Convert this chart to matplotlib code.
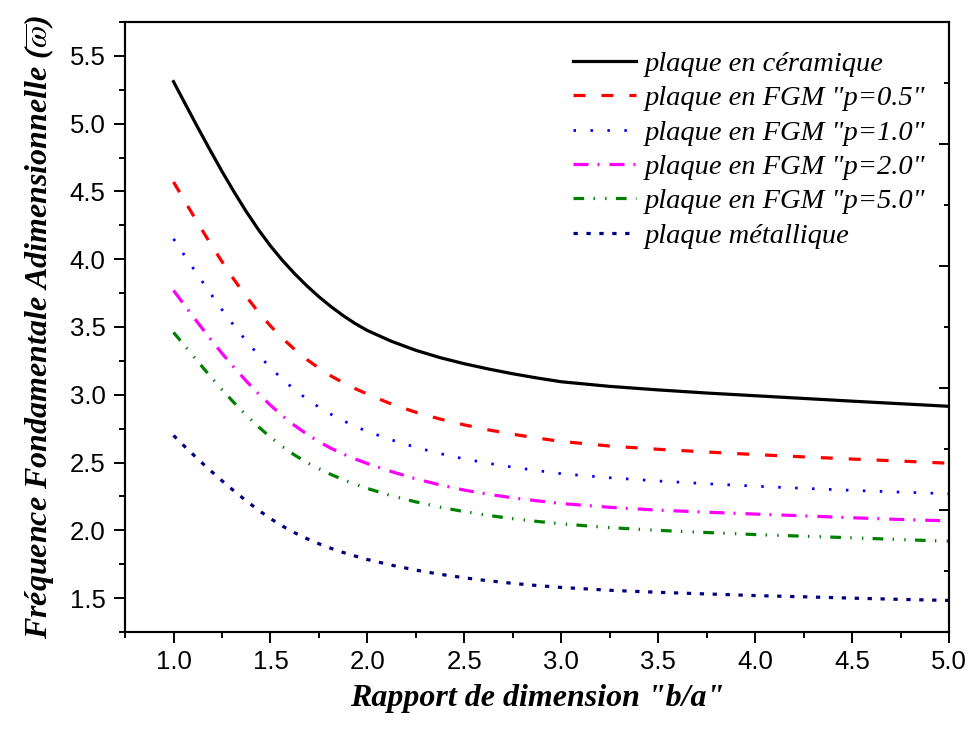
import matplotlib
matplotlib.use("Agg")
import matplotlib.pyplot as plt
from matplotlib.ticker import MultipleLocator, FormatStrFormatter

# rapport b/a
ratio = [1.0, 1.0625, 1.125, 1.1875, 1.25, 1.3125, 1.375, 1.4375, 1.5, 1.5625, 1.625,
         1.6875, 1.75, 1.8125, 1.875, 1.9375, 2.0, 2.125, 2.25, 2.375, 2.5, 2.625,
         2.75, 2.875, 3.0, 3.25, 3.5, 3.75, 4.0, 4.25, 4.5, 4.75, 5.0]

ceramique = [5.310, 5.140, 4.972, 4.808, 4.648, 4.496, 4.352, 4.219, 4.098, 3.990, 3.893,
             3.804, 3.723, 3.650, 3.584, 3.525, 3.474, 3.394, 3.328, 3.274, 3.229, 3.190,
             3.155, 3.124, 3.096, 3.062, 3.036, 3.013, 2.993, 2.973, 2.953, 2.934, 2.915]
fgm_05 = [4.570, 4.418, 4.268, 4.122, 3.982, 3.849, 3.725, 3.611, 3.508, 3.416, 3.334,
          3.261, 3.196, 3.139, 3.089, 3.045, 3.005, 2.931, 2.871, 2.821, 2.778, 2.741,
          2.709, 2.681, 2.656, 2.622, 2.598, 2.578, 2.559, 2.542, 2.526, 2.511, 2.495]
fgm_10 = [4.150, 4.016, 3.884, 3.754, 3.628, 3.509, 3.398, 3.295, 3.200, 3.114, 3.037,
          2.969, 2.909, 2.856, 2.809, 2.767, 2.729, 2.667, 2.612, 2.566, 2.527, 2.494,
          2.466, 2.441, 2.418, 2.388, 2.364, 2.344, 2.326, 2.310, 2.295, 2.282, 2.270]
fgm_20 = [3.770, 3.650, 3.532, 3.417, 3.306, 3.201, 3.102, 3.009, 2.923, 2.844, 2.773,
          2.710, 2.654, 2.605, 2.563, 2.526, 2.493, 2.433, 2.380, 2.335, 2.297, 2.266,
          2.240, 2.218, 2.198, 2.170, 2.149, 2.134, 2.120, 2.107, 2.093, 2.080, 2.070]
fgm_50 = [3.460, 3.354, 3.246, 3.140, 3.038, 2.941, 2.850, 2.765, 2.687, 2.617, 2.555,
          2.501, 2.454, 2.412, 2.374, 2.340, 2.309, 2.255, 2.210, 2.171, 2.138, 2.110,
          2.086, 2.066, 2.048, 2.020, 2.000, 1.984, 1.969, 1.957, 1.945, 1.932, 1.920]
metallique = [2.700, 2.612, 2.527, 2.445, 2.366, 2.290, 2.218, 2.150, 2.087, 2.031, 1.982,
              1.939, 1.901, 1.867, 1.837, 1.810, 1.785, 1.743, 1.707, 1.676, 1.650, 1.628,
              1.609, 1.593, 1.579, 1.558, 1.543, 1.531, 1.519, 1.510, 1.500, 1.491, 1.483]

labels = ['plaque en céramique', 'plaque en FGM "p=0.5"', 'plaque en FGM "p=1.0"',
          'plaque en FGM "p=2.0"', 'plaque en FGM "p=5.0"', 'plaque métallique']

plt.rcParams['lines.scale_dashes'] = False
plt.rcParams['mathtext.fontset'] = 'stix'

fig = plt.figure(figsize=(9.7, 7.42), dpi=100, facecolor='white')
ax = fig.add_axes([0.1289, 0.1482, 0.9784 - 0.1289, 0.9704 - 0.1482])

ax.plot(ratio, ceramique, color='black', lw=2.3, label=labels[0])
ax.plot(ratio, fgm_05, color='#FF0000', lw=2.3, dashes=(8.6, 11.5), label=labels[1])
ax.plot(ratio, fgm_10, color='#0000FF', lw=2.0, dashes=(1.8, 10.4), label=labels[2])
ax.plot(ratio, fgm_20, color='#FF00FF', lw=2.3, dashes=(10.8, 6.5, 1.4, 7.2), label=labels[3])
ax.plot(ratio, fgm_50, color='#008000', lw=2.3,
        dashes=(7.7, 6.7, 1.0, 7.4, 1.0, 6.7), label=labels[4])
ax.plot(ratio, metallique, color='#000080', lw=2.3, dashes=(3.1, 6.2), label=labels[5])

ax.set_xlim(0.75, 5.0)
ax.set_ylim(1.25, 5.75)
ax.xaxis.set_major_locator(MultipleLocator(0.5))
ax.xaxis.set_minor_locator(MultipleLocator(0.25))
ax.yaxis.set_major_locator(MultipleLocator(0.5))
ax.yaxis.set_minor_locator(MultipleLocator(0.25))
ax.xaxis.set_major_formatter(FormatStrFormatter('%.1f'))
ax.yaxis.set_major_formatter(FormatStrFormatter('%.1f'))

for s in ax.spines.values():
    s.set_linewidth(1.5)
ax.tick_params(which='both', direction='out', width=1.4, top=False, right=False,
               labelsize=18.5, labelfontfamily='Liberation Sans')
ax.tick_params(which='major', length=8, pad=5)
ax.tick_params(which='minor', length=4)
ax.tick_params(axis='y', which='major', pad=6)

# axe droit : graduations internes sans valeurs
ax2 = ax.twinx()
ax2.set_ylim(0, 10)
ax2.yaxis.set_major_locator(MultipleLocator(2))
ax2.yaxis.set_minor_locator(MultipleLocator(1))
ax2.tick_params(which='both', direction='in', width=1.4, labelright=False)
ax2.tick_params(which='major', length=7)
ax2.tick_params(which='minor', length=3.5)
for s in ax2.spines.values():
    s.set_linewidth(1.5)

ax.set_xlabel('Rapport de dimension "b/a"', family='Liberation Serif', weight='bold',
              style='italic', fontsize=23, labelpad=7)
ax.set_ylabel(r'Fréquence Fondamentale Adimensionnelle ($\overline{\omega}$)',
              family='Liberation Serif', weight='bold', style='italic', fontsize=23,
              labelpad=10)

ax.legend(loc='upper right', bbox_to_anchor=(1.002, 0.995), frameon=False,
          prop=dict(family='Liberation Serif', style='italic', size=20.5),
          handlelength=2.2, handletextpad=0.3, labelspacing=0.3)

fig.savefig('out.png', dpi=100)
